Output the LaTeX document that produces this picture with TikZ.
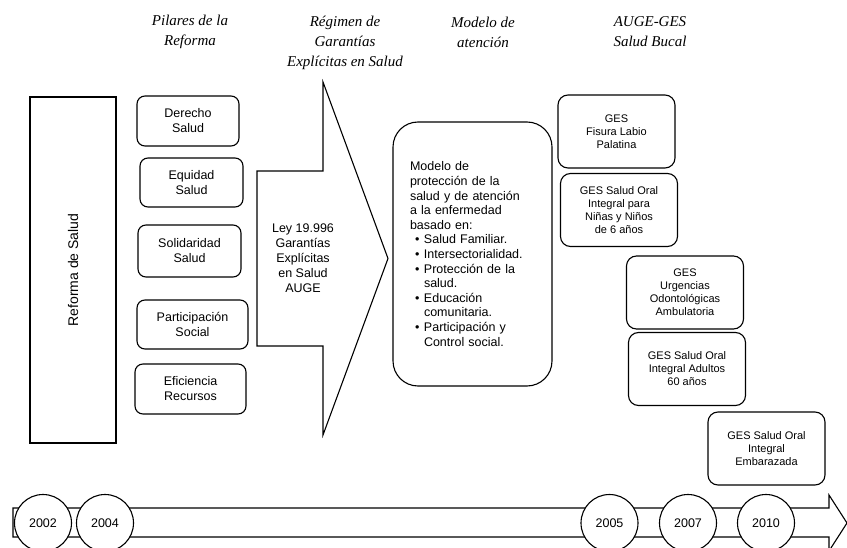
\documentclass[tikz,border=0pt]{standalone}
\usepackage{fontspec}
\setmainfont{Liberation Serif}
\setsansfont{Liberation Sans}
\newcommand{\punto}{\makebox[14pt][l]{\hspace{5pt}\textbullet}}
\begin{document}
\begin{tikzpicture}[x=1pt,y=-1pt,
	linea/.style={line width=1.1pt},
	caja/.style={draw, linea, rounded corners=8pt, align=center, inner sep=0pt,
		font=\sffamily\fontsize{12.5}{15}\selectfont},
	ges/.style={draw, linea, rounded corners=10pt, align=center, inner sep=0pt,
		font=\sffamily\fontsize{11}{13}\selectfont},
	titulo/.style={align=center, font=\itshape\fontsize{15}{20}\selectfont},
	anio/.style={draw, linea, circle, fill=white, minimum size=57pt, inner sep=0pt,
		font=\sffamily\fontsize{12.5}{15}\selectfont}]
	\useasboundingbox (0,0) rectangle (847,548);
	\clip (0,0) rectangle (847,548);

	% titulos
	\node[titulo] (tpilares) at (190,32) {Pilares de la\\Reforma};
	\node[titulo] (tregimen) at (345,43) {Régimen de\\Garantías\\Explícitas en Salud};
	\node[titulo] (tmodelo) at (483,32) {Modelo de\\atención};
	\node[titulo] (tauge) at (650,32) {AUGE-GES\\Salud Bucal};

	% reforma
	\node[draw, linea, minimum width=86, minimum height=346] (reforma) at (73,270) {};
	\node[rotate=90, font=\sffamily\fontsize{14}{16}\selectfont] (treforma) at (reforma.center) {Reforma de Salud};

	% pilares
	\foreach \n/\x/\y/\w/\h/\t in {derecho/188/121/102/50/{Derecho\\Salud},
		equidad/191.5/182.5/103/49/{Equidad\\Salud},
		solidaridad/189.5/251/103/52/{Solidaridad\\Salud},
		participacion/192.5/324.5/111/49/{Participación\\Social},
		eficiencia/190.5/389/111/50/{Eficiencia\\Recursos}}{
		\node[caja, minimum width=\w, minimum height=\h] (\n) at (\x,\y) {\t};
	};

	% flecha AUGE
	\draw[linea] (257,171) -- (323,171) -- (323,82) -- (388,258.5) -- (323,435)
		-- (323,346) -- (257,346) -- cycle;
	\node[align=center, font=\sffamily\fontsize{12.5}{15}\selectfont] (ley) at (303,258) {Ley 19.996\\Garantías\\Explícitas\\en Salud\\AUGE};

	% modelo
	\node[draw, linea, rounded corners=25pt, minimum width=159, minimum height=264,
		text width=125, align=left, inner sep=0pt,
		font=\sffamily\fontsize{12.5}{14.6}\selectfont] (modelo) at (472.5,254) {%
		Modelo de\\protección de la\\salud y de atención\\a la enfermedad\\basado en:\\
		\punto Salud Familiar.\\
		\punto Intersectorialidad.\\
		\punto Protección de la\\
		\hspace*{14pt}salud.\\
		\punto Educación\\
		\hspace*{14pt}comunitaria.\\
		\punto Participación y\\
		\hspace*{14pt}Control social.};

	% GES salud bucal
	\foreach \n/\x/\y/\t in {fisura/616.5/131.5/{GES\\Fisura Labio\\Palatina},
		ninos/619/210/{GES Salud Oral\\Integral para\\Niñas y Niños\\de 6 años},
		urgencias/685/292.5/{GES\\Urgencias\\Odontológicas\\Ambulatoria},
		adultos/687/369/{GES Salud Oral\\Integral Adultos\\60 años},
		embarazada/766.5/448.5/{GES Salud Oral\\Integral\\Embarazada}}{
		\node[ges, minimum width=117, minimum height=73] (\n) at (\x,\y) {\t};
	};

	% linea de tiempo
	\draw[linea, fill=white] (13,508) -- (829,508) -- (829,495) -- (847,523)
		-- (829,551) -- (829,537) -- (13,537) -- cycle;
	\foreach \a/\x in {2002/43,2004/105,2005/609.5,2007/688,2010/766}{
		\node[anio] (a\a) at (\x,523) {\a};
	};
\end{tikzpicture}
\end{document}
